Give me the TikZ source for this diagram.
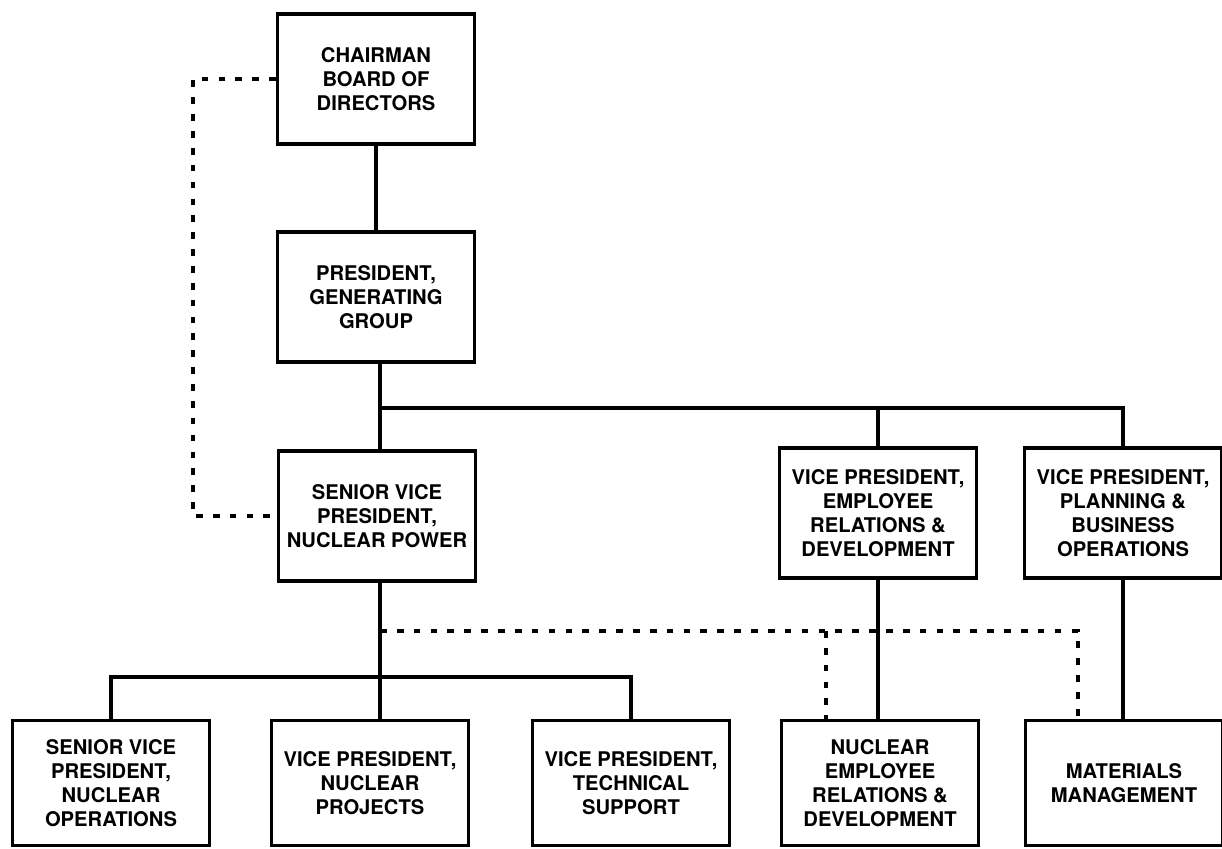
\documentclass[tikz,border=0pt]{standalone}
\usepackage{fontspec}
\setsansfont{TeX Gyre Heros}
\usetikzlibrary{calc}

\begin{document}
\begin{tikzpicture}[x=0.02cm, y=0.02cm,
        orgbox/.style={draw, line width=1.9pt, minimum width=3.94cm, minimum height=2.6cm, inner sep=0pt, align=center,
            font=\sffamily\bfseries\fontsize{11.5}{13.6}\selectfont},
        lowbox/.style={orgbox, minimum height=2.5cm},
        solidline/.style={line width=1.9pt},
        dotline/.style={line width=2.6pt, dash pattern=on 3.8pt off 5.8pt}]
        \useasboundingbox[fill=white] (0,0) rectangle (1222,848);

        \node[orgbox] (chair) at (376,769) {CHAIRMAN\\BOARD OF\\DIRECTORS};
        \node[orgbox] (pres) at (376,551) {PRESIDENT,\\GENERATING\\GROUP};
        \node[orgbox] (svp) at (377,332) {SENIOR VICE\\PRESIDENT,\\NUCLEAR POWER};
        \node[orgbox] (vper) at (878,335) {VICE PRESIDENT,\\EMPLOYEE\\RELATIONS \&\\DEVELOPMENT};
        \node[orgbox] (vppb) at (1123,335) {VICE PRESIDENT,\\PLANNING \&\\BUSINESS\\OPERATIONS};

        \node[lowbox] (sno) at (111,65) {SENIOR VICE\\PRESIDENT,\\NUCLEAR\\OPERATIONS};
        \node[lowbox] (vpnp) at (370,65) {VICE PRESIDENT,\\NUCLEAR\\PROJECTS};
        \node[lowbox] (vpts) at (631,65) {VICE PRESIDENT,\\TECHNICAL\\SUPPORT};
        \node[lowbox] (ner) at (880,65) {NUCLEAR\\EMPLOYEE\\RELATIONS \&\\DEVELOPMENT};
        \node[lowbox] (mm) at (1124,65) {MATERIALS\\MANAGEMENT};

        \coordinate (topbus) at (380,440);
        \coordinate (lowbus) at (380,171);
        \coordinate (dotbus) at (380,217);
        \coordinate (d1) at (826,217);
        \coordinate (d2) at (1078,217);
        \coordinate (dleft) at (193,0);

        \draw[solidline] (chair) -- (pres);
        \draw[solidline] (pres.south -| topbus) -- (svp.north -| topbus);
        \draw[solidline] (topbus) -| (vppb.north);
        \draw[solidline] (vper.north |- topbus) -- (vper.north);
        \draw[solidline] (svp.south -| lowbus) -- (vpnp.north -| lowbus);
        \draw[solidline] (sno.north) |- (lowbus) -| (vpts.north);
        \draw[solidline] (vper.south) -- (vper.south |- ner.north);
        \draw[solidline] (vppb.south) -- (vppb.south |- mm.north);

        \draw[dotline] (chair.west) -| (dleft |- svp.west) -- (svp.west);
        \draw[dotline] (dotbus) -- (d2) -- (d2 |- mm.north);
        \draw[dotline] (d1) -- (d1 |- ner.north);
\end{tikzpicture}
\end{document}
